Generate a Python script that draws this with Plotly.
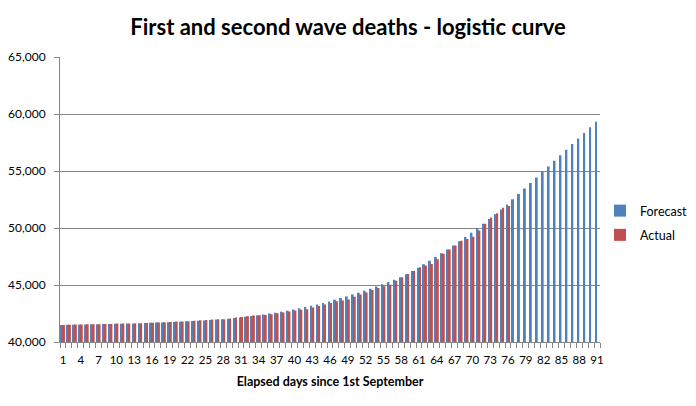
import plotly.graph_objects as go

days = list(range(1, 92))

forecast = [
    41500, 41510, 41520, 41530, 41540, 41550, 41560, 41570, 41580, 41590,
    41600, 41615, 41630, 41645, 41660, 41680, 41700, 41720, 41740, 41760,
    41785, 41810, 41835, 41865, 41895, 41930, 41965, 42005, 42050, 42100,
    42150, 42210, 42270, 42340, 42410, 42490, 42570, 42660, 42750, 42850,
    42950, 43060, 43180, 43300, 43430, 43560, 43700, 43850, 44000, 44160,
    44330, 44500, 44680, 44870, 45060, 45260, 45470, 45680, 45950, 46230,
    46520, 46820, 47130, 47450, 47780, 48120, 48470, 48830, 49200, 49580,
    49970, 50370, 50780, 51200, 51630, 52070, 52520, 52990, 53460, 53940,
    54420, 54910, 55400, 55890, 56380, 56870, 57360, 57850, 58340, 58830,
    59320,
]

actual = [
    41501, 41514, 41527, 41537, 41549, 41551, 41554, 41584, 41586, 41614,
    41623, 41628, 41637, 41638, 41664, 41684, 41705, 41732, 41759, 41788,
    41788, 41825, 41862, 41902, 41936, 41971, 41988, 42001, 42072, 42143,
    42202, 42268, 42317, 42350, 42369, 42445, 42515, 42592, 42679, 42760,
    42825, 42875, 43018, 43155, 43293, 43429, 43579, 43646, 43726, 43967,
    44158, 44347, 44571, 44745, 44896, 45032, 45365, 45675, 45955, 46229,
    46555, 46717, 46853, 47250, 47742, 48120, 48475, 48888, 49044, 49238,
    49770, 50365, 50928, 51304, 51766, 51934,
]

tick_labels = list(range(1, 92, 3))

BLUE = "#4F81BD"
RED = "#C0504D"
GRAY = "#868686"
FONT = "Lato"

fig = go.Figure()
fig.add_trace(go.Bar(x=days, y=forecast, name="Forecast", marker_color=BLUE,
                     marker_line_width=0, legendgroup="f"))
fig.add_trace(go.Bar(x=days[:len(actual)], y=actual, name="Actual", marker_color=RED,
                     marker_line_width=0, legendgroup="a"))

# page body has an 8px default margin, so figure sits at (8, 8)
W, H = 680, 390
L, T = 52, 49
R = W - 592
B = H - 334
pw, ph = W - L - R, H - T - B

fig.update_layout(
    width=W, height=H,
    margin=dict(l=L, r=R, t=T, b=B, autoexpand=False),
    paper_bgcolor="white", plot_bgcolor="white",
    barmode="group", bargap=0.33, bargroupgap=0,
    font=dict(family=FONT, size=12, color="black"),
    title=dict(text="<b>First and second wave deaths - logistic curve</b>",
               x=0.5, xanchor="center", y=1 - 19 / H, yanchor="middle",
               font=dict(family=FONT, size=22, color="black")),
    showlegend=True,
    legend=dict(x=1.0, xanchor="left", y=(334 - 215) / ph, yanchor="middle",
                font=dict(family=FONT, size=12.5, color="black"),
                bgcolor="rgba(0,0,0,0)", traceorder="grouped", tracegroupgap=5),
    xaxis=dict(
        range=[0.5, 91.5], tickmode="array", tickvals=tick_labels,
        ticktext=[str(v) for v in tick_labels], ticks="",
        ticklabelstandoff=7,
        showgrid=False, showline=True, linecolor=GRAY, linewidth=1,
        tickfont=dict(family=FONT, size=11.5),
        minor=dict(ticks="outside", tickmode="linear", tick0=0.5, dtick=1,
                   ticklen=5, tickcolor=GRAY, showgrid=False),
        title=dict(text="<b>Elapsed days since 1st September</b>",
                   font=dict(family=FONT, size=12.5), standoff=12),
        zeroline=False,
    ),
    yaxis=dict(
        range=[40000, 65000], dtick=5000, tickformat=",",
        showgrid=True, gridcolor=GRAY, gridwidth=1,
        showline=True, linecolor=GRAY, linewidth=1,
        ticks="outside", ticklen=5, tickcolor=GRAY, ticklabelstandoff=6,
        tickfont=dict(family=FONT, size=12), zeroline=False,
    ),
)

fig.write_html("out.html")
